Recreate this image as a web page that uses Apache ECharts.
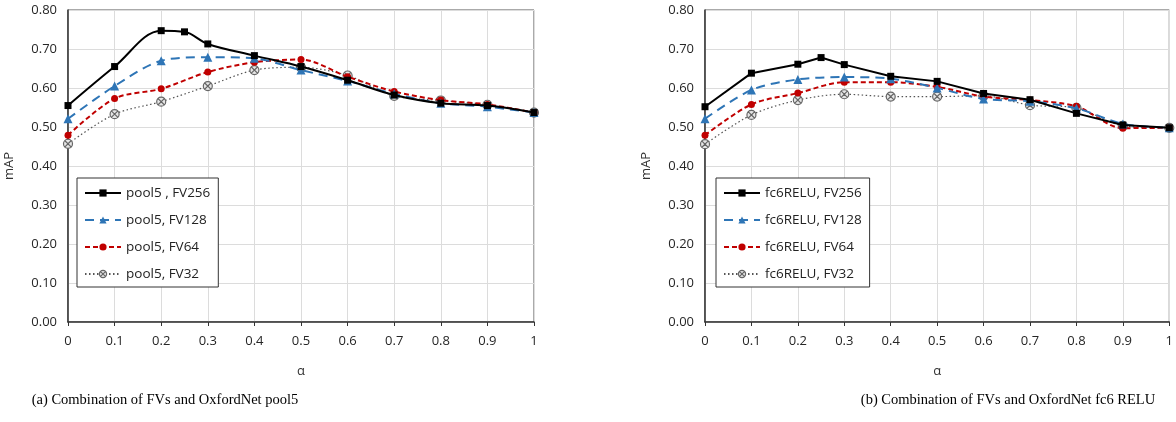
<!DOCTYPE html>
<html>
<head>
<meta charset="utf-8">
<script src="https://cdn.jsdelivr.net/npm/echarts@6/dist/echarts.min.js"></script>
<style>
  html, body { margin: 0; padding: 0; background: #fff; }
  #chart { width: 1176px; height: 422px; }
</style>
</head>
<body>
<div id="chart"></div>
<script>
// alpha values; FV256 also has a point at 0.25
const alphas = [0, 0.1, 0.2, 0.3, 0.4, 0.5, 0.6, 0.7, 0.8, 0.9, 1]
const alphas256 = [0, 0.1, 0.2, 0.25, 0.3, 0.4, 0.5, 0.6, 0.7, 0.8, 0.9, 1]

// (a) pool5
const pool5FV256 = [0.555, 0.655, 0.747, 0.744, 0.713, 0.683, 0.655, 0.620, 0.582, 0.561, 0.555, 0.537]
const pool5FV128 = [0.521, 0.605, 0.670, 0.679, 0.676, 0.646, 0.618, 0.585, 0.561, 0.552, 0.537]
const pool5FV64 = [0.479, 0.573, 0.598, 0.641, 0.666, 0.673, 0.629, 0.591, 0.569, 0.558, 0.537]
const pool5FV32 = [0.457, 0.533, 0.565, 0.605, 0.646, 0.653, 0.632, 0.580, 0.568, 0.557, 0.537]

// (b) fc6 RELU
const fc6FV256 = [0.552, 0.638, 0.661, 0.678, 0.660, 0.630, 0.617, 0.586, 0.570, 0.535, 0.505, 0.498]
const fc6FV128 = [0.521, 0.595, 0.622, 0.628, 0.624, 0.600, 0.572, 0.566, 0.548, 0.508, 0.498]
const fc6FV64 = [0.479, 0.558, 0.587, 0.615, 0.615, 0.603, 0.578, 0.569, 0.553, 0.497, 0.498]
const fc6FV32 = [0.456, 0.531, 0.569, 0.584, 0.578, 0.578, 0.580, 0.556, 0.549, 0.503, 0.498]

const yTicks = [0, 0.1, 0.2, 0.3, 0.4, 0.5, 0.6, 0.7, 0.8]

const font = 'Open Sans'
const crossCircle = 'path://M0,-5A5,5,0,1,1,0,5A5,5,0,1,1,0,-5Z M-3.4,-3.4L3.4,3.4 M3.4,-3.4L-3.4,3.4'
const crossStyle = { color: '#e6e6e6', borderColor: '#666', borderWidth: 1.2 }

const pair = (xs, ys) => xs.map((x, i) => [x, ys[i]])

function makeSeries(idx, names, data, smooth256) {
  return [
    {
      name: names[0], type: 'line', xAxisIndex: idx, yAxisIndex: idx,
      data: pair(alphas256, data[0]), smooth: smooth256 ? 0.35 : false,
      symbol: 'rect', symbolSize: 7,
      itemStyle: { color: '#000' },
      lineStyle: { color: '#000', width: 2 },
      z: 5
    },
    {
      name: names[1], type: 'line', xAxisIndex: idx, yAxisIndex: idx,
      data: pair(alphas, data[1]), smooth: 0.3,
      symbol: 'triangle', symbolSize: 9,
      itemStyle: { color: '#2e75b6' },
      lineStyle: { color: '#2e75b6', width: 2, type: [9, 6] },
      z: 4
    },
    {
      name: names[2], type: 'line', xAxisIndex: idx, yAxisIndex: idx,
      data: pair(alphas, data[2]), smooth: 0.3,
      symbol: 'circle', symbolSize: 7,
      itemStyle: { color: '#c00000' },
      lineStyle: { color: '#c00000', width: 2, type: [5, 3] },
      z: 3
    },
    {
      name: names[3], type: 'line', xAxisIndex: idx, yAxisIndex: idx,
      data: pair(alphas, data[3]), smooth: 0.3,
      symbol: crossCircle, symbolSize: 9,
      itemStyle: crossStyle,
      lineStyle: { color: '#555', width: 1.2, type: [1.5, 2.5] },
      z: 2
    }
  ]
}

const names1 = ['pool5 , FV256', 'pool5, FV128', 'pool5, FV64', 'pool5, FV32']
const names2 = ['fc6RELU, FV256', 'fc6RELU, FV128', 'fc6RELU, FV64', 'fc6RELU, FV32']

function xAxis(idx) {
  return {
    type: 'value', gridIndex: idx, min: 0, max: 1, interval: 0.1,
    name: 'α', nameLocation: 'middle', nameGap: 43,
    nameTextStyle: { fontFamily: font, fontSize: 13, color: '#333' },
    axisLine: { lineStyle: { color: '#333', width: 1.5 } },
    axisTick: { show: true, length: 4, lineStyle: { color: '#333' } },
    axisLabel: { fontFamily: font, fontSize: 13, color: '#262626', margin: 13 },
    splitLine: { show: true, lineStyle: { color: '#dcdcdc' } }
  }
}

function yAxis(idx) {
  return {
    type: 'value', gridIndex: idx, min: yTicks[0], max: yTicks[yTicks.length - 1], interval: 0.1,
    name: 'mAP', nameLocation: 'middle', nameGap: 52,
    nameTextStyle: { fontFamily: font, fontSize: 13, color: '#333' },
    axisLine: { show: true, lineStyle: { color: '#333', width: 1.5 } },
    axisTick: { show: false },
    axisLabel: { fontFamily: font, fontSize: 13, color: '#262626', margin: 11, formatter: v => v.toFixed(2) },
    splitLine: { show: true, lineStyle: { color: '#dcdcdc' } }
  }
}

function legend(names, left, width) {
  return {
    data: names.map((n, i) => i === 3 ? { name: n, itemStyle: crossStyle } : n),
    orient: 'vertical', left: left, top: 178, width: width,
    itemWidth: 36, itemHeight: 9, itemGap: 13,
    padding: [8, 8, 6, 7],
    borderColor: '#333', borderWidth: 1, backgroundColor: '#fff',
    textStyle: { fontFamily: font, fontSize: 13.5, color: '#222' }
  }
}

const captionStyle = { fontFamily: 'Liberation Serif', fontSize: 14.5, fontWeight: 'normal', color: '#000' }

const chart = echarts.init(document.getElementById('chart'), null, { renderer: 'canvas' })
chart.setOption({
  animation: false,
  backgroundColor: '#fff',
  title: [
    { text: '(a) Combination of FVs and OxfordNet pool5', left: 165, top: 393, textAlign: 'center', padding: 0, textStyle: captionStyle },
    { text: '(b) Combination of FVs and OxfordNet fc6 RELU', left: 1008, top: 393, textAlign: 'center', padding: 0, textStyle: captionStyle }
  ],
  grid: [
    { left: 68, right: 642, top: 10, bottom: 100, show: true, borderColor: '#555', borderWidth: 1 },
    { left: 705, right: 4, top: 10, bottom: 100, show: true, borderColor: '#555', borderWidth: 1 }
  ],
  legend: [legend(names1, 77, 139), legend(names2, 716, 152)],
  xAxis: [xAxis(0), xAxis(1)],
  yAxis: [yAxis(0), yAxis(1)],
  series: [
    ...makeSeries(0, names1, [pool5FV256, pool5FV128, pool5FV64, pool5FV32], true),
    ...makeSeries(1, names2, [fc6FV256, fc6FV128, fc6FV64, fc6FV32], false)
  ]
})
</script>
</body>
</html>
